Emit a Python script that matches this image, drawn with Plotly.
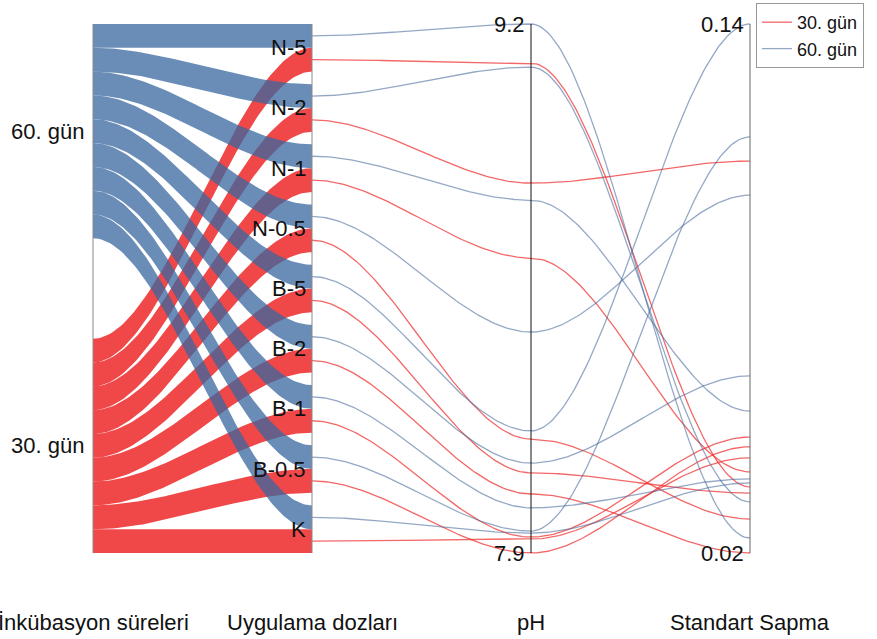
import numpy as np
import plotly.graph_objects as go

# ---------------- data ----------------
doses = ["N-5", "N-2", "N-1", "N-0.5", "B-5", "B-2", "B-1", "B-0.5", "K"]
periods = ["60. gün", "30. gün"]
axis_titles = ["İnkübasyon süreleri", "Uygulama dozları", "pH", "Standart Sapma"]

ph_60 = [9.20, 9.094, 8.767, 8.443, 8.200, 8.121, 8.011, 7.954, 7.949]
ph_30 = [9.104, 8.809, 8.625, 8.180, 8.097, 8.045, 7.939, 7.900, 7.934]
sd_60 = [0.0234, 0.0316, 0.0522, 0.1012, 0.1400, 0.0602, 0.0368, 0.1144, 0.0359]
sd_30 = [0.0350, 0.1089, 0.0384, 0.0277, 0.0336, 0.0200, 0.0463, 0.0441, 0.0416]

ph_ticks = [7.9, 9.2]
sd_ticks = [0.02, 0.14]

# ---------------- styling ----------------
FONT = "Liberation Sans, Arial, sans-serif"
RIB_RED = "rgb(240,72,72)"
RIB_BLUE = "rgba(56,103,160,0.75)"
LINE_RED = "rgba(238,45,45,0.72)"
LINE_BLUE = "rgba(70,105,155,0.58)"

n = len(doses)
w = 0.045                      # ribbon thickness (share of axis height)
g = (1 - 2 * n * w) / (n - 1)  # gap between dose groups

t = np.linspace(0, 1, 80)
s = 3 * t ** 2 - 2 * t ** 3    # smooth step


def norm(v, ticks):
    v = np.asarray(v, dtype=float)
    return (v - ticks[0]) / (ticks[1] - ticks[0])


ph60n, ph30n = norm(ph_60, ph_ticks), norm(ph_30, ph_ticks)
sd60n, sd30n = norm(sd_60, sd_ticks), norm(sd_30, sd_ticks)

fig = go.Figure()


def ribbon(left_top, right_top, color):
    top = left_top + (right_top - left_top) * s
    bot = top - w
    fig.add_trace(go.Scatter(
        x=np.concatenate([t, t[::-1]]),
        y=np.concatenate([top, bot[::-1]]),
        mode="lines", fill="toself", fillcolor=color,
        line=dict(width=0, color=color),
        hoverinfo="skip", showlegend=False))


dose_top = [1 - i * (2 * w + g) for i in range(n)]

# red (30. gün) ribbons first, blue (60. gün) on top
for i in range(n):
    ribbon(n * w - i * w, dose_top[i] - w, RIB_RED)
for i in range(n):
    ribbon(1 - i * w, dose_top[i], RIB_BLUE)


def curve(y0, y1, y2):
    x = np.concatenate([1 + t, 2 + t[1:]])
    y = np.concatenate([y0 + (y1 - y0) * s, y1 + (y2 - y1) * s[1:]])
    return x, y


first_red, first_blue = True, True
for i in range(n):
    x, y = curve(dose_top[i] - w - w / 2, ph30n[i], sd30n[i])
    fig.add_trace(go.Scatter(x=x, y=y, mode="lines",
                             line=dict(color=LINE_RED, width=1.3),
                             name=periods[1], legendgroup="30",
                             showlegend=first_red, hoverinfo="skip"))
    first_red = False
for i in range(n):
    x, y = curve(dose_top[i] - w / 2, ph60n[i], sd60n[i])
    fig.add_trace(go.Scatter(x=x, y=y, mode="lines",
                             line=dict(color=LINE_BLUE, width=1.3),
                             name=periods[0], legendgroup="60",
                             showlegend=first_blue, hoverinfo="skip"))
    first_blue = False

# axis lines
for k, col in [(0, "#8a8a8a"), (1, "#8a8a8a"), (2, "#111111"), (3, "#666666")]:
    fig.add_shape(type="line", xref="x", yref="y", x0=k, x1=k, y0=0, y1=1,
                  line=dict(color=col, width=1), layer="above")

ann = []
TXT = dict(family=FONT, size=22, color="#111111")
for i, d in enumerate(doses):
    ann.append(dict(x=1, y=dose_top[i] - w, text=d, xref="x", yref="y",
                    xanchor="right", yanchor="middle", xshift=-4,
                    showarrow=False, font=TXT))
ann.append(dict(x=0, y=1 - n * w / 2, text=periods[0], xref="x", yref="y",
                xanchor="right", yanchor="middle", xshift=-7,
                showarrow=False, font=TXT))
ann.append(dict(x=0, y=n * w / 2, text=periods[1], xref="x", yref="y",
                xanchor="right", yanchor="middle", xshift=-7,
                showarrow=False, font=TXT))
for k, ticks in [(2, ph_ticks), (3, sd_ticks)]:
    for j, tv in enumerate(ticks):
        ann.append(dict(x=k, y=j, text=f"{tv:g}", xref="x", yref="y",
                        xanchor="right", yanchor="middle", xshift=-4,
                        showarrow=False, font=TXT))
for k, title in enumerate(axis_titles):
    ann.append(dict(x=k, y=0, text=title, xref="x", yref="y",
                    xanchor="center", yanchor="middle", yshift=-69,
                    showarrow=False, font=TXT))

padx = 10 / 219
pady = 10 / 529
fig.update_layout(
    width=877, height=639,
    margin=dict(l=83, r=117, t=14, b=76, autoexpand=False),
    paper_bgcolor="white", plot_bgcolor="white",
    xaxis=dict(range=[-padx, 3 + padx], visible=False, fixedrange=True),
    yaxis=dict(range=[-pady, 1 + pady], visible=False, fixedrange=True),
    annotations=ann,
    showlegend=True,
    legend=dict(x=(756 - 83) / 677, y=1 + 11 / 549, xanchor="left", yanchor="top",
                bgcolor="white", bordercolor="#999999", borderwidth=1,
                font=dict(family=FONT, size=18, color="#111111"),
                tracegroupgap=0),
    font=dict(family=FONT),
)

fig.write_html("out.html",
               config={"displayModeBar": False},
               post_script="document.body.style.margin='0';document.body.style.overflow='hidden';")
